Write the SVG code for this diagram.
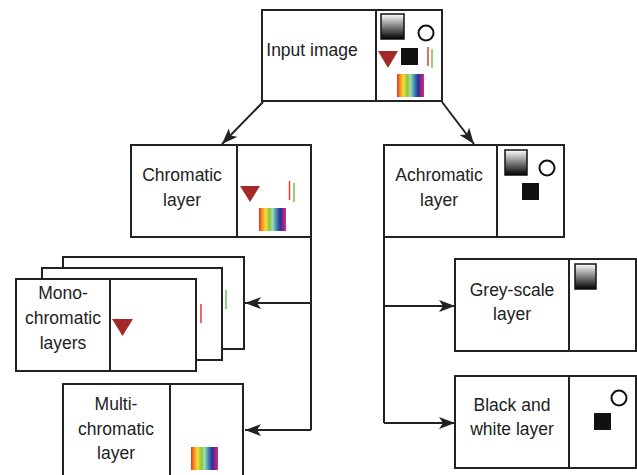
<svg xmlns="http://www.w3.org/2000/svg" width="637" height="475" viewBox="0 0 637 475">
<style>
.box{fill:#fff;stroke:#222;stroke-width:2}
.div{stroke:#222;stroke-width:2}
.lbl{font-family:"Liberation Sans",Arial,sans-serif;font-size:17.5px;fill:#222;text-anchor:middle}
.con{fill:none;stroke:#222;stroke-width:2}
.tri{fill:#a32a28}
.blk{fill:#111}
.circ{fill:#fff;stroke:#111;stroke-width:2}
.grad{fill:url(#gs);stroke:#111;stroke-width:1.5}
.rb{fill:url(#rainbow)}
</style>
<defs>
<linearGradient id="gs" x1="0" y1="0" x2="0" y2="1">
<stop offset="0" stop-color="#ffffff"/>
<stop offset="1" stop-color="#000000"/>
</linearGradient>
<linearGradient id="rainbow" x1="0" y1="0" x2="1" y2="0">
<stop offset="0" stop-color="#e8322a"/>
<stop offset="0.12" stop-color="#f7941d"/>
<stop offset="0.25" stop-color="#f3e03a"/>
<stop offset="0.38" stop-color="#8dc63f"/>
<stop offset="0.5" stop-color="#a6dca0"/>
<stop offset="0.6" stop-color="#4fa8c0"/>
<stop offset="0.72" stop-color="#3a53a4"/>
<stop offset="0.8" stop-color="#2e3192"/>
<stop offset="0.9" stop-color="#92278f"/>
<stop offset="1" stop-color="#ec2079"/>
</linearGradient>
<marker id="arr" markerUnits="userSpaceOnUse" markerWidth="16" markerHeight="12" refX="16" refY="6" orient="auto">
<path d="M0,0 L16,6 L0,12 L4,6 z" fill="#222"/>
</marker>
</defs>

<g id="connectors">
<line class="con" x1="263" y1="102" x2="222" y2="144" marker-end="url(#arr)"/>
<line class="con" x1="442" y1="102" x2="474" y2="144" marker-end="url(#arr)"/>
<polyline class="con" points="311,237 311,430"/>
<line class="con" x1="311" y1="303" x2="245" y2="303" marker-end="url(#arr)"/>
<line class="con" x1="311" y1="430" x2="245" y2="430" marker-end="url(#arr)"/>
<polyline class="con" points="384,237 384,423"/>
<line class="con" x1="384" y1="306" x2="455" y2="306" marker-end="url(#arr)"/>
<line class="con" x1="384" y1="423" x2="455" y2="423" marker-end="url(#arr)"/>
</g>

<g id="input-image">
<rect class="box" x="262" y="10" width="180" height="91"/>
<line class="div" x1="376" y1="10" x2="376" y2="101"/>
<text class="lbl" x="312" y="56">Input image</text>
<rect class="grad" x="381" y="14" width="23" height="25"/>
<circle class="circ" cx="426" cy="33" r="7.5"/>
<polygon class="tri" points="378,51 398,51 388,68"/>
<rect class="blk" x="401" y="48" width="17" height="17"/>
<line x1="428" y1="47" x2="428" y2="66" stroke="#e53a2f" stroke-width="1.5"/>
<line x1="432" y1="49" x2="432" y2="68" stroke="#6cc24a" stroke-width="1.5"/>
<rect class="rb" x="397" y="74" width="27" height="23"/>
</g>

<g id="chromatic-layer">
<rect class="box" x="131" y="145" width="180" height="92"/>
<line class="div" x1="237" y1="145" x2="237" y2="237"/>
<text class="lbl" x="182" y="181">Chromatic</text>
<text class="lbl" x="182" y="206">layer</text>
<polygon class="tri" points="240,186 260,186 250,202"/>
<line x1="289.5" y1="181" x2="289.5" y2="200" stroke="#e53a2f" stroke-width="1.5"/>
<line x1="294" y1="183" x2="294" y2="202" stroke="#6cc24a" stroke-width="1.5"/>
<rect class="rb" x="259" y="208" width="27" height="23"/>
</g>

<g id="achromatic-layer">
<rect class="box" x="384" y="145" width="180" height="92"/>
<line class="div" x1="497" y1="145" x2="497" y2="237"/>
<text class="lbl" x="439" y="181">Achromatic</text>
<text class="lbl" x="439" y="206">layer</text>
<rect class="grad" x="505" y="150" width="22" height="25"/>
<circle class="circ" cx="547" cy="168" r="7.5"/>
<rect class="blk" x="522" y="183" width="17" height="17"/>
</g>

<g id="monochromatic-layers">
<rect class="box" x="63" y="257" width="181" height="92"/>
<line x1="226" y1="290" x2="226" y2="309" stroke="#6cc24a" stroke-width="1.5"/>
<rect class="box" x="42" y="268" width="180" height="92"/>
<line x1="201" y1="304" x2="201" y2="323" stroke="#e53a2f" stroke-width="1.5"/>
<rect class="box" x="16" y="279" width="180" height="92"/>
<line class="div" x1="110" y1="279" x2="110" y2="371"/>
<text class="lbl" x="63" y="299">Mono-</text>
<text class="lbl" x="63" y="324">chromatic</text>
<text class="lbl" x="63" y="349">layers</text>
<polygon class="tri" points="112,319 133,319 122.5,336"/>
</g>

<g id="multichromatic-layer">
<rect class="box" x="63" y="384" width="180" height="100"/>
<line class="div" x1="170" y1="384" x2="170" y2="484"/>
<text class="lbl" x="116" y="410">Multi-</text>
<text class="lbl" x="116" y="435">chromatic</text>
<text class="lbl" x="116" y="459">layer</text>
<rect class="rb" x="191" y="447" width="27" height="23"/>
</g>

<g id="grey-scale-layer">
<rect class="box" x="455" y="259" width="181" height="92"/>
<line class="div" x1="569" y1="259" x2="569" y2="351"/>
<text class="lbl" x="512" y="296">Grey-scale</text>
<text class="lbl" x="512" y="320">layer</text>
<rect class="grad" x="575" y="264" width="21" height="25"/>
</g>

<g id="black-white-layer">
<rect class="box" x="455" y="376" width="181" height="92"/>
<line class="div" x1="569" y1="376" x2="569" y2="468"/>
<text class="lbl" x="512" y="411">Black and</text>
<text class="lbl" x="512" y="435">white layer</text>
<circle class="circ" cx="619" cy="398" r="7.5"/>
<rect class="blk" x="594" y="413" width="17" height="17"/>
</g>
</svg>
